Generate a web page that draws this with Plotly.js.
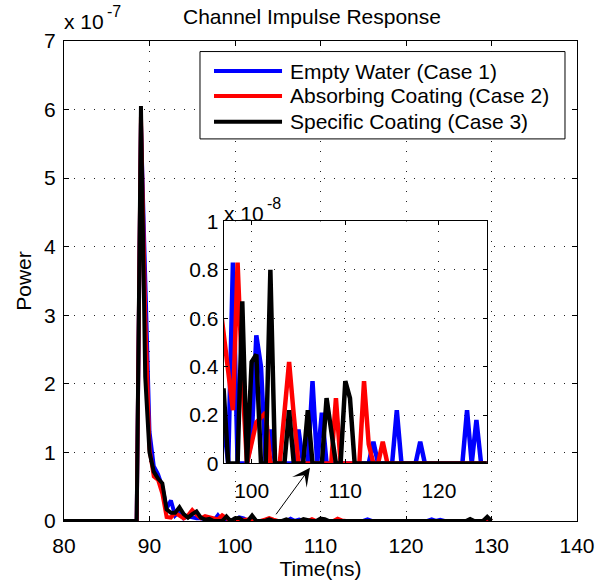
<!DOCTYPE html>
<html>
<head>
<meta charset="utf-8">
<script src="https://cdn.plot.ly/plotly-3.0.1.min.js"></script>
<style>html,body{margin:0;padding:0;background:#fff;}#chart{width:608px;height:583px;}</style>
</head>
<body>
<div id="chart"></div>
<script>
// Time axis (ns)
const timeNs = [
  80, 80.5, 81, 81.5, 82, 82.5, 83, 83.5, 84, 84.5,
  85, 85.5, 86, 86.5, 87, 87.5, 88, 88.5, 89, 89.5,
  90, 90.5, 91, 91.5, 92, 92.5, 93, 93.5, 94, 94.5,
  95, 95.5, 96, 96.5, 97, 97.5, 98, 98.5, 99, 99.5,
  100, 100.5, 101, 101.5, 102, 102.5, 103, 103.5, 104, 104.5,
  105, 105.5, 106, 106.5, 107, 107.5, 108, 108.5, 109, 109.5,
  110, 110.5, 111, 111.5, 112, 112.5, 113, 113.5, 114, 114.5,
  115, 115.5, 116, 116.5, 117, 117.5, 118, 118.5, 119, 119.5,
  120, 120.5, 121, 121.5, 122, 122.5, 123, 123.5, 124, 124.5,
  125, 125.5, 126, 126.5, 127, 127.5, 128, 128.5, 129, 129.5,
  130
];
// Power values in units of 1e-8
const emptyWater = [
  0, 0, 0, 0, 0, 0, 0, 0, 0, 0,
  0, 0, 0, 0, 0, 0, 0, 0, 58, 36,
  13, 8, 6.8, 5, 1.8, 3.0, 0.8, 1.4, 0.4, 0.7,
  0.5, 0.4, 0.4, 0.3, 0.17, 0, 0.83, 0, 0, 0,
  0.1, 0.53, 0.4, 0, 0.14, 0, 0, 0, 0, 0,
  0.14, 0, 0, 0.34, 0, 0.21, 0, 0, 0, 0,
  0, 0, 0, 0, 0, 0, 0.09, 0, 0, 0,
  0, 0.22, 0, 0, 0, 0, 0.09, 0, 0, 0,
  0, 0, 0, 0, 0, 0, 0.22, 0, 0.18, 0,
  0, 0, 0, 0, 0, 0, 0, 0, 0, 0,
  0
];
const absorbingCoating = [
  0, 0, 0, 0, 0, 0, 0, 0, 0, 0,
  0, 0, 0, 0, 0, 0, 0, 0, 59, 30,
  10.5, 6.5, 6.0, 4.0, 0.6, 0.5, 1.2, 0.8, 0.4, 0.8,
  1.6, 0.9, 0.4, 0.7, 0.53, 0.37, 0.22, 0.83, 0.35, 0,
  0.08, 0.17, 0.19, 0.21, 0, 0, 0, 0.21, 0.42, 0.2,
  0, 0, 0, 0, 0, 0, 0, 0, 0.27, 0,
  0, 0, 0, 0, 0.34, 0.08, 0, 0, 0.09, 0,
  0, 0, 0, 0, 0, 0, 0, 0, 0, 0,
  0, 0, 0, 0, 0, 0, 0, 0, 0, 0,
  0, 0, 0, 0, 0, 0, 0, 0, 0, 0.4,
  0
];
const specificCoating = [
  0, 0, 0, 0, 0, 0, 0, 0, 0, 0,
  0, 0, 0, 0, 0, 0, 0, 0, 60.5, 21,
  10, 7.2, 6.2, 5.5, 1.7, 1.2, 1.2, 2.0, 1.0, 0.5,
  1.0, 1.4, 0.5, 0.2, 0.31, 0, 0, 0, 0.67, 0,
  0.42, 0.45, 0, 0, 0.80, 0, 0, 0, 0.22, 0,
  0, 0, 0.22, 0, 0, 0, 0.27, 0.12, 0, 0,
  0.34, 0.27, 0, 0, 0, 0, 0, 0, 0, 0,
  0, 0, 0, 0, 0, 0, 0, 0, 0, 0,
  0, 0, 0, 0, 0, 0, 0, 0, 0, 0,
  0, 0, 0, 0, 0, 0.3, 0, 0, 0, 0.6,
  0
];
const seriesNames = ['Empty Water (Case 1)', 'Absorbing Coating (Case 2)', 'Specific Coating (Case 3)'];
const seriesColors = ['#0000ff', '#ff0000', '#000000'];
const seriesData = [emptyWater, absorbingCoating, specificCoating];

const mainXTicks = [80, 90, 100, 110, 120, 130, 140];
const mainYTickVals = [0, 10, 20, 30, 40, 50, 60, 70];
const mainYTickText = ['0', '1', '2', '3', '4', '5', '6', '7'];
const insetXTicks = [100, 110, 120];
const insetYTicks = [0, 0.2, 0.4, 0.6, 0.8, 1];

const FONT = 'Liberation Sans, Arial, Helvetica, sans-serif';
const GRID = '1px,9px';

const traces = [];
seriesData.forEach((d, k) => {
  traces.push({x: timeNs, y: d, type: 'scatter', mode: 'lines', name: seriesNames[k],
    line: {color: seriesColors[k], width: 4}, xaxis: 'x', yaxis: 'y', showlegend: false, hoverinfo: 'skip'});
});
seriesData.forEach((d, k) => {
  traces.push({x: timeNs, y: d, type: 'scatter', mode: 'lines', name: seriesNames[k],
    line: {color: seriesColors[k], width: 4.5}, xaxis: 'x2', yaxis: 'y2', showlegend: false, hoverinfo: 'skip'});
});

// custom legend geometry (paper coords)
const legBox = {x0: 0.2651, x1: 0.9766, y0: 0.796, y1: 0.978};
const legRows = [0.9375, 0.8855, 0.832];
const shapes = [{type: 'rect', xref: 'paper', yref: 'paper', x0: legBox.x0, x1: legBox.x1, y0: legBox.y0, y1: legBox.y1,
  fillcolor: '#ffffff', line: {color: '#000', width: 1}, layer: 'above'}];
const annotations = [];
seriesNames.forEach((n, k) => {
  shapes.push({type: 'line', xref: 'paper', yref: 'paper', x0: 0.2924, x1: 0.4250, y0: legRows[k], y1: legRows[k],
    line: {color: seriesColors[k], width: 4}, layer: 'above'});
  annotations.push({xref: 'paper', yref: 'paper', x: 0.4366, y: legRows[k], xanchor: 'left', yanchor: 'middle',
    text: n, showarrow: false, font: {family: FONT, size: 21, color: '#000'}});
});
// exponent labels
annotations.push({xref: 'paper', yref: 'paper', x: -0.004, y: 1.013, xanchor: 'left', yanchor: 'bottom',
  text: 'x 10', showarrow: false, font: {family: FONT, size: 21}});
annotations.push({xref: 'paper', yref: 'paper', x: 0.079, y: 1.040, xanchor: 'left', yanchor: 'bottom',
  text: '-7', showarrow: false, font: {family: FONT, size: 16}});
annotations.push({xref: 'paper', yref: 'paper', x: 0.308, y: 0.613, xanchor: 'left', yanchor: 'bottom',
  text: 'x 10', showarrow: false, font: {family: FONT, size: 21}});
annotations.push({xref: 'paper', yref: 'paper', x: 0.392, y: 0.640, xanchor: 'left', yanchor: 'bottom',
  text: '-8', showarrow: false, font: {family: FONT, size: 16}});
annotations.push({xref: 'paper', yref: 'paper', x: 0.4795, y: 0.1108, ax: -35, ay: 48, text: '',
  showarrow: true, arrowhead: 3, arrowsize: 3, arrowwidth: 1, arrowcolor: '#000', standoff: 0});

const axCommon = {showline: true, linecolor: '#000', linewidth: 1, mirror: 'ticks', ticks: 'inside', ticklen: 5,
  tickcolor: '#000', showgrid: true, gridcolor: '#222', gridwidth: 1, griddash: GRID, zeroline: false,
  tickfont: {family: FONT, size: 21, color: '#000'}, fixedrange: true};

const layout = {
  width: 608, height: 583,
  margin: {l: 64, r: 31, t: 41, b: 62, pad: 0},
  paper_bgcolor: '#ffffff', plot_bgcolor: '#ffffff',
  font: {family: FONT, size: 21, color: '#000'},
  showlegend: false,
  title: {text: 'Channel Impulse Response', x: 0.4834, xref: 'paper', xanchor: 'center', y: 1 - 16.5 / 583, yanchor: 'middle',
    font: {family: FONT, size: 21, color: '#000'}},
  xaxis: Object.assign({}, axCommon, {domain: [0, 1], anchor: 'y', range: [80, 140], tickmode: 'array', tickvals: mainXTicks,
    ticklabelstandoff: 6, title: {text: 'Time(ns)', standoff: 1, font: {family: FONT, size: 21}}}),
  yaxis: Object.assign({}, axCommon, {domain: [0, 1], anchor: 'x', range: [0, 70], tickmode: 'array', tickvals: mainYTickVals,
    ticktext: mainYTickText, ticklabelstandoff: 3, title: {text: 'Power', standoff: 6, font: {family: FONT, size: 21}}}),
  xaxis2: Object.assign({}, axCommon, {domain: [0.311, 0.824], anchor: 'y2', range: [97, 125.1], tickmode: 'array',
    tickvals: insetXTicks, ticklen: 4, ticklabelstandoff: 8}),
  yaxis2: Object.assign({}, axCommon, {domain: [0.1198, 0.624], anchor: 'x2', range: [0, 1], tickmode: 'array',
    tickvals: insetYTicks, ticklen: 4}),
  shapes: shapes,
  annotations: annotations
};

Plotly.newPlot('chart', traces, layout, {displayModeBar: false, staticPlot: true});
</script>
</body>
</html>
